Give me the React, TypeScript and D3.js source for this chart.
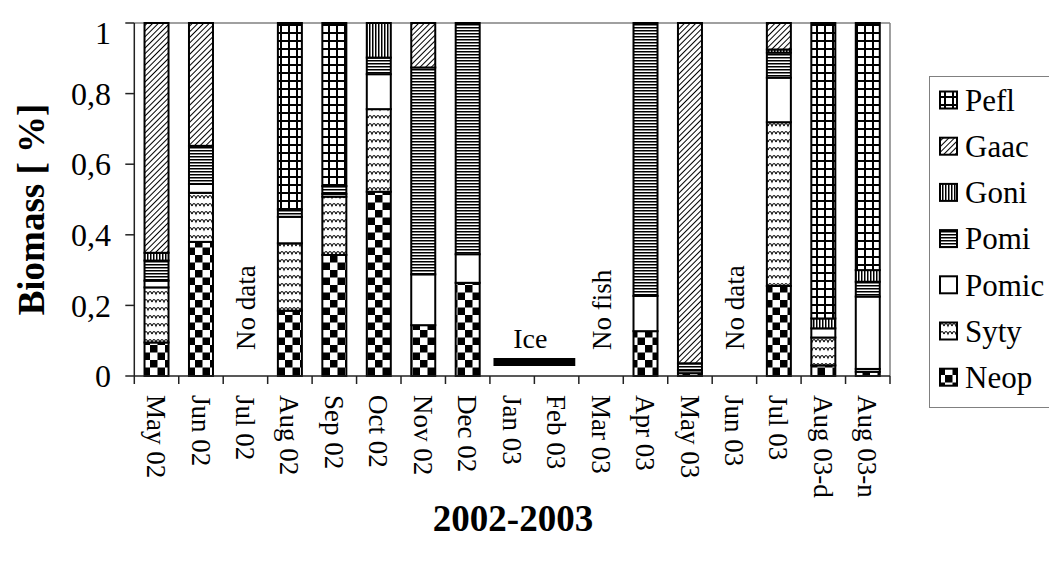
import React from "react";
import * as d3 from "d3";

const categories = ["May 02","Jun 02","Jul 02","Aug 02","Sep 02","Oct 02","Nov 02","Dec 02","Jan 03","Feb 03","Mar 03","Apr 03","May 03","Jun 03","Jul 03","Aug 03-d","Aug 03-n"];
const seriesNames = ["Neop","Syty","Pomic","Pomi","Goni","Gaac","Pefl"];
const neop  = [0.095,0.38,0,0.185,0.343,0.522,0.144,0.264,0,0,0,0.127,0.008,0,0.255,0.03,0.012];
const syty  = [0.156,0.139,0,0.191,0.165,0.234,0,0,0,0,0,0,0,0,0.464,0.079,0.008];
const pomic = [0.019,0.025,0,0.075,0.008,0.099,0.144,0.081,0,0,0,0.10,0.008,0,0.126,0.026,0.205];
const pomi  = [0.057,0.108,0,0.021,0.022,0.047,0.586,0.655,0,0,0,0.773,0.02,0,0.071,0,0.042];
const goni  = [0.022,0,0,0,0,0.098,0,0,0,0,0,0,0,0,0.009,0.028,0.033];
const gaac  = [0.651,0.348,0,0,0,0,0.126,0,0,0,0,0,0.964,0,0.075,0,0];
const pefl  = [0,0,0,0.528,0.462,0,0,0,0,0,0,0,0,0,0,0.837,0.70];
const yTicks = [0,0.2,0.4,0.6,0.8,1];
const yTickLabels = ["0","0,2","0,4","0,6","0,8","1"];
const notes = [{cat:"Jul 02",text:"No data"},{cat:"Mar 03",text:"No fish"},{cat:"Jun 03",text:"No data"}];
const iceRange = ["Jan 03","Feb 03"];

const values: Record<string, number[]> = { Neop: neop, Syty: syty, Pomic: pomic, Pomi: pomi, Goni: goni, Gaac: gaac, Pefl: pefl };
const patternId: Record<string, string> = { Neop: "p-neop", Syty: "p-syty", Pomic: "p-pomic", Pomi: "p-pomi", Goni: "p-goni", Gaac: "p-gaac", Pefl: "p-pefl" };

const W = 1049, H = 562;
const left = 134.3, right = 890, top = 23, bottom = 376;
const FONT = "Liberation Serif";

export default function App() {
  const x = d3.scaleBand<string>().domain(categories).range([left, right]).paddingInner(0.46).paddingOuter(0.23);
  const y = d3.scaleLinear().domain([0, 1]).range([bottom, top]);
  const rows = categories.map((c, i) => {
    const r: any = { cat: c };
    seriesNames.forEach(s => (r[s] = values[s][i]));
    return r;
  });
  const stacked = d3.stack<any>().keys(seriesNames)(rows);
  const step = x.step();
  const bounds = d3.range(categories.length + 1).map(i => left + i * step);
  const center = (c: string) => (x(c) as number) + x.bandwidth() / 2;
  const legendOrder = [...seriesNames].reverse();
  const ts = { fontFamily: FONT };

  return (
    <svg width={W} height={H} style={{ position: "absolute", left: 0, top: 0, background: "#fff" }}>
      <defs>
        <pattern id="p-neop" patternUnits="userSpaceOnUse" width={15} height={15}>
          <rect width={15} height={15} fill="#fff" />
          <rect x={0} y={0} width={7.5} height={7.5} fill="#000" />
          <rect x={7.5} y={7.5} width={7.5} height={7.5} fill="#000" />
        </pattern>
        <pattern id="p-syty" patternUnits="userSpaceOnUse" width={8} height={8}>
          <rect width={8} height={8} fill="#fff" />
          <path d="M0,6 Q2,1 4,6 Q6,1 8,6" fill="none" stroke="#000" strokeWidth={1.1} />
        </pattern>
        <pattern id="p-pomic" patternUnits="userSpaceOnUse" width={4} height={4}>
          <rect width={4} height={4} fill="#fff" />
        </pattern>
        <pattern id="p-pomi" patternUnits="userSpaceOnUse" width={4} height={3}>
          <rect width={4} height={3} fill="#fff" />
          <rect y={0} width={4} height={1.5} fill="#000" />
        </pattern>
        <pattern id="p-goni" patternUnits="userSpaceOnUse" width={3} height={4}>
          <rect width={3} height={4} fill="#fff" />
          <rect x={0} width={1.5} height={4} fill="#000" />
        </pattern>
        <pattern id="p-gaac" patternUnits="userSpaceOnUse" width={4} height={4} patternTransform="rotate(45)">
          <rect width={4} height={4} fill="#fff" />
          <rect x={0} width={1} height={4} fill="#000" />
        </pattern>
        <pattern id="p-pefl" patternUnits="userSpaceOnUse" width={8} height={8}>
          <rect width={8} height={8} fill="#fff" />
          <rect x={0} y={0} width={8} height={2} fill="#000" />
          <rect x={0} y={0} width={2} height={8} fill="#000" />
        </pattern>
      </defs>

      {/* plot area border */}
      <line x1={left} x2={right} y1={top} y2={top} stroke="#808080" strokeWidth={1.5} />
      <line x1={right} x2={right} y1={top} y2={bottom} stroke="#808080" strokeWidth={1.5} />

      {/* bars */}
      {stacked.map(layer => (
        <g key={layer.key}>
          {layer.map((d, i) =>
            d[1] - d[0] > 0 ? (
              <rect key={i} x={x(categories[i])} width={x.bandwidth()} y={y(d[1])} height={y(d[0]) - y(d[1])}
                fill={`url(#${patternId[layer.key]})`} stroke="#000" strokeWidth={2} />
            ) : null
          )}
        </g>
      ))}

      {/* axes */}
      <line x1={left} x2={left} y1={top} y2={bottom} stroke="#222" strokeWidth={1.5} />
      <line x1={left} x2={right} y1={bottom} y2={bottom} stroke="#222" strokeWidth={1.5} />
      {yTicks.map((t, i) => (
        <g key={t}>
          <line x1={left - 9} x2={left} y1={y(t)} y2={y(t)} stroke="#222" strokeWidth={1.5} />
          <text style={ts} x={111} y={Math.max(y(t), top + 10)} dy="0.35em" textAnchor="end" fontSize={32}>{yTickLabels[i]}</text>
        </g>
      ))}
      {bounds.map((b, i) => (
        <line key={i} x1={b} x2={b} y1={bottom} y2={bottom + 8} stroke="#222" strokeWidth={1.5} />
      ))}
      {categories.map(c => (
        <text style={ts} key={c} transform={`translate(${center(c)},${bottom + 19}) rotate(90)`} dy="0.35em" fontSize={27}>{c}</text>
      ))}

      {/* annotations */}
      {notes.map(n => (
        <text style={ts} key={n.cat} transform={`translate(${center(n.cat)},${bottom - 26}) rotate(-90)`} dy="0.35em" fontSize={27}>{n.text}</text>
      ))}
      <rect x={center(iceRange[0]) - 0.42 * step} width={center(iceRange[1]) - center(iceRange[0]) + 0.84 * step}
        y={bottom - 18} height={8} fill="#000" />
      <text style={ts} x={(center(iceRange[0]) + center(iceRange[1])) / 2 - 4} y={bottom - 28} textAnchor="middle" fontSize={28}>Ice</text>

      {/* axis titles */}
      <text style={ts} transform={`translate(44,${(top + bottom) / 2 + 10}) rotate(-90)`} textAnchor="middle" fontSize={37} fontWeight="bold">Biomass [ %]</text>
      <text style={ts} x={513} y={531} textAnchor="middle" fontSize={37} fontWeight="bold">2002-2003</text>

      {/* legend */}
      <rect x={929.5} y={76.5} width={130} height={331} fill="#fff" stroke="#808080" strokeWidth={1} />
      {legendOrder.map((s, i) => {
        const cy = 100 + i * 46.2;
        return (
          <g key={s}>
            <rect x={940} y={cy - 8.5} width={17} height={17} fill={`url(#${patternId[s]})`} stroke="#000" strokeWidth={2} />
            <text style={ts} x={965} y={cy} dy="0.35em" fontSize={31}>{s}</text>
          </g>
        );
      })}
    </svg>
  );
}
